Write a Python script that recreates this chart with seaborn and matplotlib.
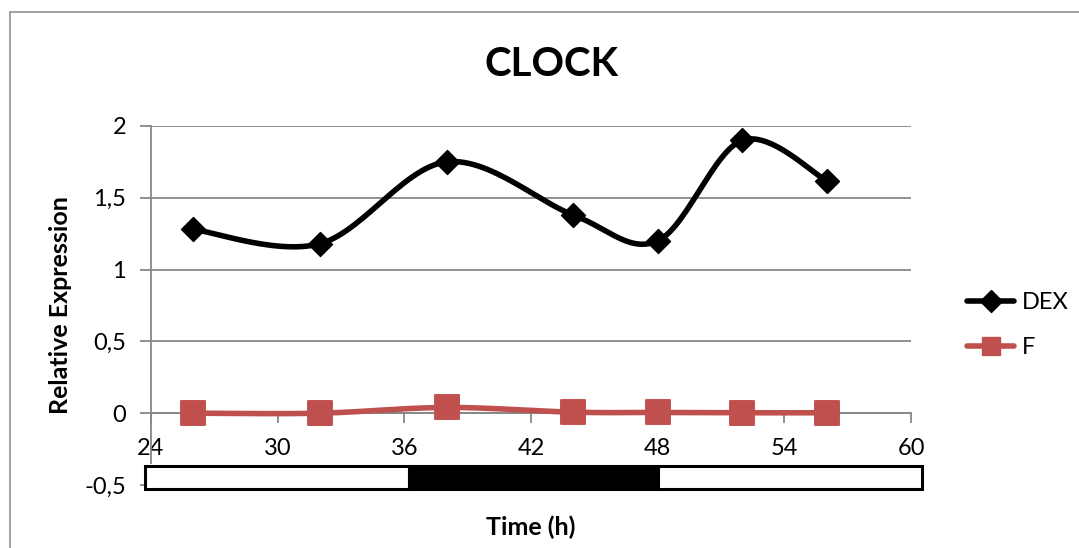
import numpy as np
import pandas as pd
import matplotlib
matplotlib.use("Agg")
import matplotlib.pyplot as plt
from matplotlib.patches import Rectangle
from matplotlib.lines import Line2D
import seaborn as sns

# ---- data ----
time_h = [26, 32, 38, 44, 48, 52, 56]
dex = [1.28, 1.18, 1.75, 1.38, 1.20, 1.90, 1.62]
f_vals = [0.0, 0.0, 0.04, 0.007, 0.005, 0.003, 0.003]
x_ticks = [24, 30, 36, 42, 48, 54, 60]
y_ticks = [-0.5, 0, 0.5, 1, 1.5, 2]
periods = [(23.7, 36.2, "white"), (36.2, 48, "black"), (48, 60.5, "white")]

sns.set_theme(style="white")
plt.rcParams["font.family"] = ["Lato", "DejaVu Sans"]
plt.rcParams["text.color"] = "black"
plt.rcParams["axes.labelcolor"] = "black"

W, H = 1079, 548
fig = plt.figure(figsize=(W / 100, H / 100), dpi=100)
ax = fig.add_axes([151 / W, (H - 485) / H, 760 / W, 359 / H])
ax.set_xlim(24, 60)
ax.set_ylim(-0.5, 2)

GRID = "#878787"
RED = "#C0504D"

# gridlines
for yv in [0, 0.5, 1, 1.5, 2]:
    ax.axhline(yv, color=GRID, lw=1.3, zorder=1)


def smooth(xs, ys, sx=21.1, sy=143.5, n=30):
    # Excel-like smoothed line: cubic Bezier through points (computed in pixel-like scale)
    P = np.column_stack([np.asarray(xs, float) * sx, np.asarray(ys, float) * sy])
    out = []
    for i in range(len(P) - 1):
        p0 = P[i - 1] if i > 0 else P[i]
        p1, p2 = P[i], P[i + 1]
        p3 = P[i + 2] if i + 2 < len(P) else P[i + 1]
        c1 = p1 + (p2 - p0) / 6
        c2 = p2 - (p3 - p1) / 6
        t = np.linspace(0, 1, n)[:, None]
        seg = ((1 - t) ** 3) * p1 + 3 * ((1 - t) ** 2) * t * c1 + 3 * (1 - t) * t ** 2 * c2 + t ** 3 * p2
        out.append(seg if i == 0 else seg[1:])
    out = np.vstack(out)
    return out[:, 0] / sx, out[:, 1] / sy


sx_d, sy_d = smooth(time_h, dex)
sx_f, sy_f = smooth(time_h, f_vals)
curves = pd.DataFrame({"x": np.concatenate([sx_d, sx_f]), "y": np.concatenate([sy_d, sy_f]),
                       "s": ["DEX"] * len(sx_d) + ["F"] * len(sx_f)})
pts = pd.DataFrame({"x": time_h * 2, "y": dex + f_vals, "s": ["DEX"] * 7 + ["F"] * 7})

sns.lineplot(data=curves[curves.s == "DEX"], x="x", y="y", sort=False, color="black", lw=4,
             ax=ax, legend=False, zorder=3, estimator=None)
sns.lineplot(data=curves[curves.s == "F"], x="x", y="y", sort=False, color=RED, lw=4,
             ax=ax, legend=False, zorder=3, estimator=None)
sns.scatterplot(data=pts[pts.s == "DEX"], x="x", y="y", marker="D", s=150, color="black",
                edgecolor="black", ax=ax, zorder=4, legend=False)
sns.scatterplot(data=pts[pts.s == "F"], x="x", y="y", marker="s", s=300, color=RED,
                edgecolor=RED, ax=ax, zorder=4, legend=False)

# light/dark bar
for a, b, c in periods:
    ax.add_patch(Rectangle((a, -0.53), b - a, 0.165, facecolor=c, edgecolor="black",
                           lw=2.2, clip_on=False, zorder=5))

# spines
for s in ["top", "right"]:
    ax.spines[s].set_visible(False)
ax.spines["bottom"].set_position(("data", 0))
ax.spines["bottom"].set_color(GRID)
ax.spines["bottom"].set_linewidth(1.3)
ax.spines["left"].set_color(GRID)
ax.spines["left"].set_linewidth(1.3)
ax.spines["left"].set_bounds(-0.35, 2)

ax.set_xticks(x_ticks)
ax.set_xticklabels([str(v) for v in x_ticks])
ax.set_yticks(y_ticks)
ax.set_yticklabels([str(v).replace(".", ",") if v != 0 else "0" for v in y_ticks])
ax.tick_params(axis="x", direction="out", length=7, width=1.3, color=GRID, pad=11,
               labelsize=17, labelcolor="black", bottom=True)
ax.tick_params(axis="y", direction="out", length=8, width=1.3, color=GRID, pad=10,
               labelsize=17, labelcolor="black", left=True)

ax.set_xlabel("Time (h)", fontsize=18, fontweight="bold")
ax.xaxis.set_label_coords(0.5, -0.086)
ax.set_ylabel("Relative Expression", fontsize=18, fontweight="bold")
ax.yaxis.set_label_coords(-0.104, 0.5)

fig.text(552 / W, 1 - 65 / H, "CLOCK", ha="center", va="center", fontsize=29, fontweight="bold")

handles = [Line2D([0], [0], color="black", lw=4, marker="D", markersize=11),
           Line2D([0], [0], color=RED, lw=4, marker="s", markersize=13)]
fig.legend(handles, ["DEX", "F"], loc="center left", bbox_to_anchor=(946 / W, 1 - 325 / H),
           frameon=False, fontsize=17, handlelength=2.0, labelspacing=1.0, handletextpad=0.3)

# chart area border
fig.add_artist(Line2D([10 / W, 10 / W], [0, 1 - 12 / H], color="#999999", lw=1.3))
fig.add_artist(Line2D([10 / W, 1], [1 - 12 / H, 1 - 12 / H], color="#999999", lw=1.3))

fig.savefig("out.png", dpi=100)
